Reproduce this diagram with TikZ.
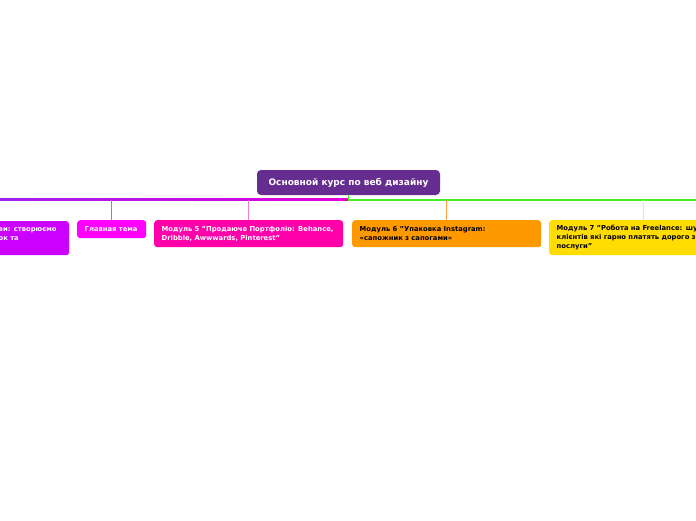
\documentclass[tikz,border=0pt]{standalone}
\usepackage{fontspec}
\setmainfont{DejaVu Sans}
\definecolor{mainc}{HTML}{662D91}
\definecolor{violc}{HTML}{CC00FF}
\definecolor{magc}{HTML}{FF00FF}
\definecolor{pinkc}{HTML}{FF00AA}
\definecolor{orc}{HTML}{FF9900}
\definecolor{yelc}{HTML}{FFDD00}
\definecolor{greenc}{HTML}{44EE22}
\definecolor{busl}{HTML}{A020F0}
\definecolor{busr}{HTML}{E000D8}
\definecolor{lmag}{HTML}{DD55DD}
\definecolor{lpink}{HTML}{FF77CC}
\definecolor{lor}{HTML}{FFA040}
\definecolor{lyel}{HTML}{FFE680}
\newcommand{\qd}{\char34\relax}
\begin{document}
\begin{tikzpicture}[x=1pt,y=-1pt,
  box/.style={rounded corners=3pt, anchor=north west, inner xsep=7.5pt, inner ysep=0pt,
    align=left, text width=174pt, font=\bfseries\fontsize{6.8}{9}\selectfont},
  link/.style={line width=1pt}]
\useasboundingbox (0,0) rectangle (696,520);
\clip (0,0) rectangle (696,520);
\fill[white] (0,0) rectangle (696,520);
% root
\node[fill=mainc, text=white, rounded corners=4pt, minimum width=183pt, minimum height=25pt,
  inner sep=0pt, font=\bfseries\fontsize{9}{10}\selectfont] (root) at (348.5,182.5)
  {Основной курс по веб дизайну};
% bus
\coordinate (hub) at (348.5,200);
\coordinate (rend) at (696,200);
\shade[left color=busl, right color=busr] (0,198.8) rectangle (348.5,200.6);
\draw[greenc, line width=1.5pt] (root.south) -- (hub) -- (rend);
% children
\node[box, fill=violc, text=white, minimum height=34pt] (m4) at (-120,221)
  {\strut\hspace*{111pt}ви: створюємо\\\strut\hspace*{111pt}ок та\\\strut};
\node[box, fill=magc, text=white, minimum height=18pt, text width=54pt] (gt) at (77,220)
  {\strut Главная тема};
\node[box, fill=pinkc, text=white, minimum height=27pt] (m5) at (154,220)
  {\strut Модуль 5 \qd Продаюче Портфоліо: Behance,\\\strut Dribble, Awwwards, Pinterest\qd};
\node[box, fill=orc, text=black, minimum height=27pt] (m6) at (352,220)
  {\strut Модуль 6 \qd Упаковка Instagram:\\\strut «сапожник з сапогами»};
\node[box, fill=yelc, text=black, minimum height=35pt] (m7) at (549,220)
  {\strut Модуль 7 \qd Робота на Freelance: шу\\\strut клієнтів які гарно платять дорого з\\\strut послуги\qd};
% connectors
\coordinate (b4) at (m4.north |- 0,200);
\coordinate (bg) at (gt.north |- 0,200);
\coordinate (b5) at (m5.north |- 0,200);
\coordinate (b6) at (m6.north |- 0,200);
\coordinate (b7) at (m7.north |- 0,200);
\draw[link, busl] (b4) -- (m4.north);
\draw[link, lmag] (bg) -- (gt.north);
\draw[link, lpink] (b5) -- (m5.north);
\draw[link, lor] (b6) -- (m6.north);
\draw[link, lyel] (b7) -- (m7.north);
\end{tikzpicture}
\end{document}
